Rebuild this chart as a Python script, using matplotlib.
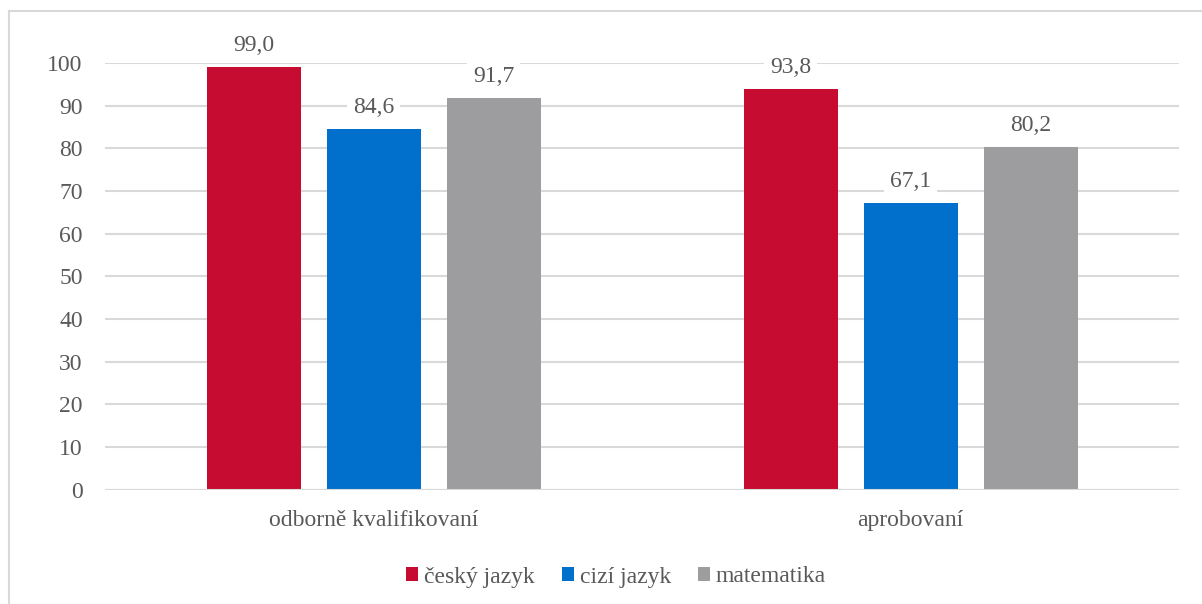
import numpy as np
import matplotlib.pyplot as plt
from matplotlib.lines import Line2D
from matplotlib.patches import Patch

categories = ["odborně kvalifikovaní", "aprobovaní"]
series_names = ["český jazyk", "cizí jazyk", "matematika"]
cesky = [99.0, 93.8]
cizi = [84.6, 67.1]
matematika = [91.7, 80.2]
colors = ["#C60C30", "#0070CC", "#9D9D9F"]
yticks = [0, 10, 20, 30, 40, 50, 60, 70, 80, 90, 100]

family = "Liberation Serif"
plt.rcParams['font.family'] = family
text_color = "#595959"
grid_color = "#D9D9D9"
fs = 17

fig = plt.figure(figsize=(12.02, 6.04), dpi=100)
ax = fig.add_axes([105 / 1202, 1 - 489.5 / 604, 1074 / 1202, 426.5 / 604])

x = np.arange(len(categories))
slot = 120 / 537
width = 94 / 537
for k, (vals, col) in enumerate(zip([cesky, cizi, matematika], colors)):
    pos = x + (k - 1) * slot
    ax.bar(pos, vals, width=width, color=col, zorder=3)
    # data labels on a white box, like the Excel original
    for p, v in zip(pos, vals):
        ax.annotate(f"{v:.1f}".replace(".", ","), (p, v), xytext=(0, 8),
                    textcoords="offset points", ha="center", va="bottom",
                    fontsize=fs, color=text_color, zorder=5, family=family,
                    bbox=dict(boxstyle="square,pad=0.25", fc="white", ec="none"))

ax.set_xlim(-0.5, 1.5)
ax.set_ylim(0, 100)
ax.set_yticks(yticks)
ax.set_yticklabels([str(t) for t in yticks], family=family, fontsize=fs, color=text_color)
ax.set_xticks(x)
ax.set_xticklabels(categories, family=family, fontsize=fs, color=text_color)
ax.tick_params(axis="both", length=0)
ax.tick_params(axis="y", pad=16)
ax.tick_params(axis="x", pad=15)
ax.grid(axis="y", color=grid_color, linewidth=1.5, zorder=0)
for s in ax.spines.values():
    s.set_visible(False)
ax.axhline(0, color=grid_color, linewidth=1.5, zorder=4)

handles = [Patch(facecolor=c, edgecolor="none") for c in colors]
fig.legend(handles, series_names, loc="center", bbox_to_anchor=(616 / 1202, 1 - 577 / 604),
           ncol=3, frameon=False, prop={"family": family, "size": fs}, labelcolor=text_color,
           handlelength=0.5, handleheight=0.5, handletextpad=0.25, columnspacing=1.15)

# outer chart frame (top and left edges visible in the reference)
fig.add_artist(Line2D([8.5 / 1202, 8.5 / 1202], [0, 1 - 10.5 / 604], transform=fig.transFigure,
                      color="#D9D9D9", linewidth=1.5))
fig.add_artist(Line2D([8.5 / 1202, 1], [1 - 10.5 / 604, 1 - 10.5 / 604], transform=fig.transFigure,
                      color="#D9D9D9", linewidth=1.5))

fig.savefig("out.png", dpi=100)
